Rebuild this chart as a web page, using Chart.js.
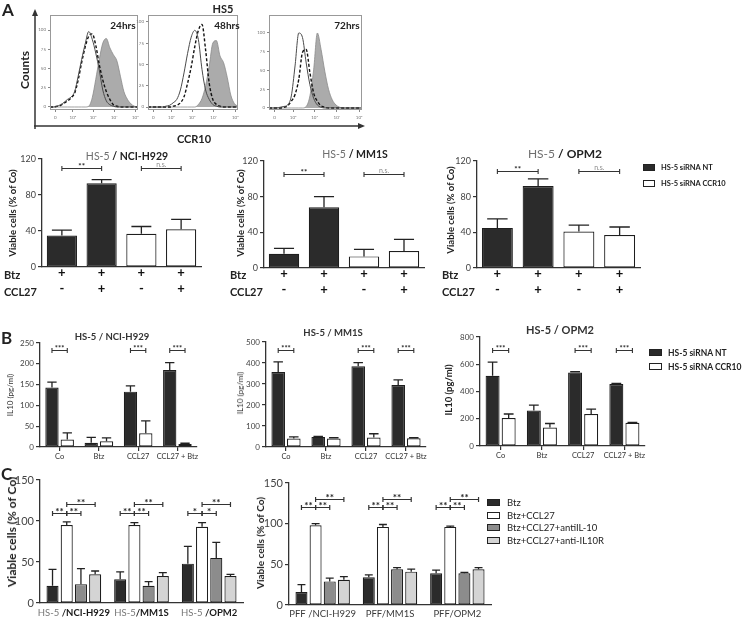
<!DOCTYPE html>
<html><head><meta charset="utf-8">
<script src="https://cdn.jsdelivr.net/npm/chart.js@4"></script>
<style>
html,body{margin:0;padding:0;background:#fff;}
#root{position:relative;width:744px;height:619px;overflow:hidden;font-family:Lato,"Open Sans",sans-serif;color:#222;}
canvas{position:absolute;}
.t{position:absolute;white-space:nowrap;line-height:1;}
.c{transform:translate(-50%,-50%);}
.l{transform:translateY(-50%);}
.r{transform:translate(-50%,-50%) rotate(-90deg);}
.sw{position:absolute;border:1.2px solid #222;box-sizing:border-box;}
</style></head><body><div id="root"></div>
<script>
// ================= DATA =================
// Panel A – flow cytometry histograms (% of max on a log CCR10 axis)
const flowBins = [0,4,8,12,16,20,24,28,32,36,40,44,48,52,56,60,64,68,72,76,80,84,88,92,96,100];
const flowTickPos = [6,26,49,73,97];
const flowTickLabels = ['0','10²','10³','10⁴','10⁵'];
const flowYTicks = [0,25,50,75,100];
const flowTimes = ['24hrs','48hrs','72hrs'];
const h24Solid  = [0,0,1,3,6,10,13,20,40,62,82,98,88,70,48,22,8,3,1,0,0,0,0,0,0,0];
const h24Dashed = [0,0,1,2,5,8,12,18,35,58,78,92,95,80,55,35,20,10,3,1,0,0,0,0,0,0];
const h24Filled = [0,0,0,0,0,0,0,0,0,0,0,1,12,36,62,83,89,77,68,60,40,20,10,4,1,0];
const h48Solid  = [0,0,0,0,0,1,2,5,9,20,40,63,82,90,79,44,20,9,3,1,0,0,0,0,0,0];
const h48Dashed = [0,0,0,0,0,0,0,1,2,5,12,28,47,71,90,97,67,28,9,3,1,0,0,0,0,0];
const h48Filled = [0,0,0,0,0,0,0,0,0,0,0,0,0,0,3,10,25,48,75,78,60,52,35,14,4,1];
const h72Solid  = [0,0,0,1,2,4,16,56,100,94,60,31,13,4,1,0,0,0,0,0,0,0,0,0,0,0];
const h72Dashed = [0,0,0,0,1,3,9,18,38,74,78,47,20,9,3,1,0,0,0,0,0,0,0,0,0,0];
const h72Filled = [0,0,0,0,0,0,0,0,0,0,2,16,51,100,78,49,25,11,4,1,0,0,0,0,0,0];

// Panel A – viable cells (% of Co)
const aRowBtz = ['+','+','+','+'];
const aRowCcl = ['-','+','-','+'];
const aLegend = ['HS-5 siRNA NT','HS-5 siRNA CCR10'];
const aYTicks = [0,40,80,120];
const aNciVals = [35,93,37,42];  const aNciErr = [6,4,8,11];
const aMmVals  = [16,68,13,19];  const aMmErr  = [6,12,8,13];
const aOpmVals = [45,92,41,37];  const aOpmErr = [10,8,7,9];
// brackets: [fromCat, fromDataset, toCat, toDataset, yValue, text]
const aNciSig = [[0,0,1,0,110,'**'],[2,0,3,0,110,'n.s.']];
const aMmSig  = [[0,0,1,0,105,'**'],[2,0,3,0,105,'n.s.']];
const aOpmSig = [[0,0,1,0,109,'**'],[2,0,3,0,109,'n.s.']];

// Panel B – IL10 (pg/ml)
const bCats = ['Co','Btz','CCL27','CCL27 + Btz'];
const bNciNT  = [143,10,133,185]; const bNciNTErr  = [13,13,14,18];
const bNciCCR = [18,14,33,7];     const bNciCCRErr = [16,8,30,2];
const bMmNT   = [357,48,385,295]; const bMmNTErr   = [48,2,17,25];
const bMmCCR  = [40,40,45,42];    const bMmCCRErr  = [8,4,18,2];
const bOpmNT  = [515,260,540,455];const bOpmNTErr  = [100,40,5,5];
const bOpmCCR = [205,135,235,170];const bOpmCCRErr = [30,30,35,3];
const bNciSig = [[0,0,0,1,233,'***'],[2,0,2,1,233,'***'],[3,0,3,1,233,'***']];
const bMmSig  = [[0,0,0,1,462,'***'],[2,0,2,1,462,'***'],[3,0,3,1,462,'***']];
const bOpmSig = [[0,0,0,1,705,'***'],[2,0,2,1,705,'***'],[3,0,3,1,705,'***']];

// Panel C – viable cells (% of Co)
const cLegend = ['Btz','Btz+CCL27','Btz+CCL27+antiIL-10','Btz+CCL27+anti-IL10R'];
const cHsCats  = ['HS-5 /NCI-H929','HS-5/MM1S','HS-5 /OPM2'];
const cPffCats = ['PFF /NCI-H929','PFF/MM1S','PFF/OPM2'];
const cHsBtz    = [21,29,48]; const cHsBtzErr    = [20,9,21];
const cHsCcl    = [95,95,93]; const cHsCclErr    = [4,3,5];
const cHsIl10   = [23,21,55]; const cHsIl10Err   = [19,5,19];
const cHsIl10R  = [35,33,33]; const cHsIl10RErr  = [4,4,2];
const cPffBtz   = [16,34,39]; const cPffBtzErr   = [9,3,4];
const cPffCcl   = [98,96,96]; const cPffCclErr   = [2,3,1];
const cPffIl10  = [29,44,39]; const cPffIl10Err  = [4,2,1];
const cPffIl10R = [31,41,44]; const cPffIl10RErr = [4,3,2];
const cHsSig = [[0,0,0,1,110,'**'],[0,1,0,2,110,'**'],[0,1,0,3,121,'**'],
                [1,0,1,1,110,'**'],[1,1,1,2,110,'**'],[1,1,1,3,121,'**'],
                [2,0,2,1,110,'*'],[2,1,2,2,110,'*'],[2,1,2,3,121,'**']];
const cPffSig = [[0,0,0,1,120,'**'],[0,1,0,2,120,'**'],[0,1,0,3,130,'**'],
                 [1,0,1,1,120,'**'],[1,1,1,2,120,'**'],[1,1,1,3,130,'**'],
                 [2,0,2,1,120,'**'],[2,1,2,2,120,'**'],[2,1,2,3,130,'**']];

// ================= STYLE =================
const DARK='#2b2b2b', EDGE='#1e1e1e', WHITE='#ffffff', MID='#8c8c8c', LIGHT='#d4d4d4';
const FAM='Lato, "Open Sans", sans-serif';
Chart.defaults.font.family = FAM;
const root = document.getElementById('root');

function addText(html, x, y, cls, style){
  const d=document.createElement('div'); d.className='t '+cls; d.innerHTML=html;
  d.style.left=x+'px'; d.style.top=y+'px'; Object.assign(d.style, style||{}); root.appendChild(d); return d;
}
function swatch(x,y,w,h,color){
  const d=document.createElement('div'); d.className='sw';
  Object.assign(d.style,{left:x+'px',top:y+'px',width:w+'px',height:h+'px',background:color}); root.appendChild(d);
}
function mkCanvas(area,yW,xH,padT,padR){
  const cv=document.createElement('canvas');
  const w=(area.r-area.l)+yW+padR, h=(area.b-area.t)+padT+xH;
  cv.width=w; cv.height=h; cv.style.width=w+'px'; cv.style.height=h+'px';
  cv.style.left=(area.l-yW)+'px'; cv.style.top=(area.t-padT)+'px';
  root.appendChild(cv); return cv;
}

// ================= PLUGINS =================
const errPlugin={id:'errbars',afterDatasetsDraw(chart,args,o){
  const ctx=chart.ctx, ys=chart.scales.y;
  chart.data.datasets.forEach((ds,di)=>{
    if(!ds.errors) return;
    chart.getDatasetMeta(di).data.forEach((bar,i)=>{
      const e=ds.errors[i]; if(!e) return;
      const yb=ys.getPixelForValue(ds.data[i]), yt=ys.getPixelForValue(ds.data[i]+e);
      const half=bar.width*(o.capFrac||0.33);
      ctx.save(); ctx.strokeStyle='#222'; ctx.lineWidth=o.lw||1.3;
      ctx.beginPath(); ctx.moveTo(bar.x,yb); ctx.lineTo(bar.x,yt);
      ctx.moveTo(bar.x-half,yt); ctx.lineTo(bar.x+half,yt); ctx.stroke(); ctx.restore();
    });
  });
}};
const sigPlugin={id:'sig',afterDatasetsDraw(chart,args,o){
  if(!o.items) return;
  const ctx=chart.ctx, ys=chart.scales.y;
  o.items.forEach(([c1,d1,c2,d2,v,t])=>{
    const x1=chart.getDatasetMeta(d1).data[c1].x, x2=chart.getDatasetMeta(d2).data[c2].x;
    const y=Math.round(ys.getPixelForValue(v))+0.5;
    ctx.save(); ctx.strokeStyle='#333'; ctx.lineWidth=o.lw||1.1;
    ctx.beginPath(); ctx.moveTo(x1,y); ctx.lineTo(x2,y);
    ctx.moveTo(x1,y-o.tick); ctx.lineTo(x1,y+o.tick); ctx.moveTo(x2,y-o.tick); ctx.lineTo(x2,y+o.tick); ctx.stroke();
    const ns=(t==='n.s.');
    ctx.fillStyle=ns?'#8a8a8a':'#222';
    ctx.font=(ns?'400 ':'700 ')+(ns?o.nsSize:o.size)+'px '+FAM;
    ctx.textAlign='center'; ctx.textBaseline='alphabetic';
    ctx.fillText(t,(x1+x2)/2, ns? y-1.5 : y+o.size*0.12);
    ctx.restore();
  });
}};
// category labels drawn at scale positions; optional split at '/' into grey prefix + bold suffix
const catLabelPlugin={id:'catLabels',afterDraw(chart,args,o){
  if(!o.enabled) return;
  const ctx=chart.ctx, xs=chart.scales.x;
  chart.data.labels.forEach((lab,i)=>{
    const k=o.split?lab.indexOf('/'):lab.length; const p1=lab.slice(0,k), p2=lab.slice(k);
    ctx.save();
    const f1=o.w1+' '+o.size+'px '+FAM, f2=o.w2+' '+o.size+'px '+FAM;
    ctx.font=f1; const w1=ctx.measureText(p1).width;
    ctx.font=f2; const w2=ctx.measureText(p2).width;
    const x0=xs.getPixelForValue(i)-(w1+w2)/2, y=chart.chartArea.bottom+o.dy;
    ctx.textBaseline='middle'; ctx.textAlign='left';
    ctx.font=f1; ctx.fillStyle=o.c1; ctx.fillText(p1,x0,y);
    ctx.font=f2; ctx.fillStyle=o.c2; ctx.fillText(p2,x0+w1,y);
    ctx.restore();
  });
}};
const boxPlugin={id:'box',afterDraw(chart){
  const a=chart.chartArea, ctx=chart.ctx; ctx.save(); ctx.strokeStyle='#999'; ctx.lineWidth=1;
  ctx.strokeRect(a.left+0.5,a.top+0.5,a.right-a.left-1,a.bottom-a.top-1); ctx.restore();
}};

// ================= BUILDERS =================
function barChart(o){
  const padT=o.padT||12, padR=o.padR||6;
  const cv=mkCanvas(o.area,o.yW,o.xH,padT,padR);
  const xH=o.xH, yW=o.yW;
  const xs=Object.assign({type:'category',offset:true,
      border:{display:true,color:'#333',width:1.3},
      afterFit(s){s.height=xH; s.paddingLeft=0; s.paddingRight=0;}}, o.x);
  return new Chart(cv,{type:'bar',
    data:{labels:o.labels,datasets:o.datasets},
    options:{responsive:false,animation:false,devicePixelRatio:1,
      layout:{padding:{top:padT,right:padR,left:0,bottom:0}},
      datasets:{bar:{categoryPercentage:o.catPct,barPercentage:o.barPct,borderWidth:1.2,borderColor:EDGE,borderSkipped:false}},
      plugins:{legend:{display:false},tooltip:{enabled:false},
        errbars:{capFrac:o.capFrac,lw:o.errLw},
        sig:Object.assign({items:o.sig},o.sigStyle),
        catLabels:o.catLabels||{enabled:false}},
      scales:{x:xs,
        y:{min:o.yMin,max:o.yMax,
          afterBuildTicks(s){s.ticks=o.yTicks.map(v=>({value:v}));},
          ticks:{font:{size:o.yFont},color:'#444',padding:2},
          grid:{drawOnChartArea:false,drawTicks:true,tickLength:4,color:'#333',lineWidth:1.2},
          border:{display:true,color:'#333',width:1.3},
          afterFit(s){s.width=yW; s.paddingTop=0; s.paddingBottom=0;}}}
    },
    plugins:[errPlugin,sigPlugin,catLabelPlugin]});
}
function flowChart(area,solid,dashed,filled,yMin,yMax){
  const cv=mkCanvas(area,12,14,2,2);
  const pts=arr=>flowBins.map((x,i)=>({x,y:arr[i]}));
  return new Chart(cv,{type:'line',
    data:{datasets:[
      {data:pts(solid),borderColor:'#4a4a4a',borderWidth:1,order:1},
      {data:pts(dashed),borderColor:'#111',borderWidth:1.4,borderDash:[3,2],order:2},
      {data:pts(filled),fill:'origin',backgroundColor:'#ababab',borderColor:'#8a8a8a',borderWidth:0.8,order:3}]},
    options:{responsive:false,animation:false,devicePixelRatio:1,
      layout:{padding:{top:2,right:2,left:0,bottom:0}},
      elements:{point:{radius:0},line:{cubicInterpolationMode:'monotone',fill:false}},
      plugins:{legend:{display:false},tooltip:{enabled:false}},
      scales:{
        x:{type:'linear',min:0,max:100,
          afterBuildTicks(s){s.ticks=flowTickPos.map(v=>({value:v}));},
          ticks:{font:{size:4.5},color:'#777',padding:3,maxRotation:0,autoSkip:false,callback:(v,i)=>flowTickLabels[i]},
          grid:{drawOnChartArea:false,tickLength:2,color:'#888'},border:{display:false},
          afterFit(s){s.height=14;s.paddingLeft=0;s.paddingRight=0;}},
        y:{min:yMin,max:yMax,
          afterBuildTicks(s){s.ticks=flowYTicks.map(v=>({value:v}));},
          ticks:{font:{size:4.5},color:'#777',padding:2},
          grid:{drawOnChartArea:false,tickLength:2,color:'#888'},border:{display:false},
          afterFit(s){s.width=12;s.paddingTop=0;s.paddingBottom=0;}}}
    },
    plugins:[boxPlugin]});
}

// ================= PANEL A =================
flowChart({l:50,t:15,r:138,b:110},h24Solid,h24Dashed,h24Filled,-3.9,119.5);
flowChart({l:148,t:15,r:238,b:110},h48Solid,h48Dashed,h48Filled,-3.5,108);
flowChart({l:269,t:15,r:362,b:110},h72Solid,h72Dashed,h72Filled,-2.7,124);

const svgNS='http://www.w3.org/2000/svg';
const svg=document.createElementNS(svgNS,'svg');
svg.setAttribute('width','744');svg.setAttribute('height','619');
svg.style.position='absolute';svg.style.left='0';svg.style.top='0';
svg.innerHTML='<line x1="35" y1="129" x2="35" y2="15" stroke="#333" stroke-width="1.5"/>'+
 '<polygon points="35,9 32,16 38,16" fill="#333"/>'+
 '<line x1="34" y1="126" x2="358" y2="126" stroke="#333" stroke-width="1.5"/>'+
 '<polygon points="365,126 358,123 358,129" fill="#333"/>';
root.appendChild(svg);

addText('A',2,9,'l',{fontSize:'17px',fontWeight:'700'});
addText('HS5',223,8,'c',{fontSize:'11px',fontWeight:'700'});
[[123,25],[227,25],[347,25]].forEach((p,i)=>addText(flowTimes[i],p[0],p[1],'c',{fontSize:'10px',fontWeight:'700'}));
addText('Counts',25,70,'r',{fontSize:'12px',fontWeight:'700'});
addText('CCR10',194,138,'c',{fontSize:'11px',fontWeight:'700'});

const aLabels=aRowBtz.map((b,i)=>[b,aRowCcl[i]]);
function aChart(area,vals,errs,sig){
  return barChart({area,yW:26,xH:40,labels:aLabels,
    datasets:[{data:vals,errors:errs,backgroundColor:[DARK,DARK,WHITE,WHITE]}],
    catPct:1,barPct:0.76,capFrac:0.33,yMin:0,yMax:120,yTicks:aYTicks,yFont:9,
    sig,sigStyle:{size:8,nsSize:7,tick:2.5},
    x:{grid:{display:false,drawTicks:false,tickLength:0},ticks:{font:{size:13,weight:'bold',lineHeight:'16px'},color:'#111',padding:-2,maxRotation:0,autoSkip:false}}});
}
aChart({l:42,t:159,r:201,b:267},aNciVals,aNciErr,aNciSig);
aChart({l:264,t:161,r:424,b:268},aMmVals,aMmErr,aMmSig);
aChart({l:477,t:161,r:640,b:268},aOpmVals,aOpmErr,aOpmSig);

const titleA=(s)=>'<span style="color:#6f6f6f;font-weight:400">HS-5 </span><b>/ '+s+'</b>';
addText(titleA('NCI-H929'),127,156,'c',{fontSize:'10.5px'});
addText(titleA('MM1S'),355,154,'c',{fontSize:'10.5px'});
addText(titleA('OPM2'),565,154,'c',{fontSize:'12px'});
[[13,213],[241,213],[451,210]].forEach(p=>addText('Viable cells (% of Co)',p[0],p[1],'r',{fontSize:'9.5px',fontWeight:'700'}));
[4,230,442].forEach(x=>{
  addText('Btz',x,274,'l',{fontSize:'11px',fontWeight:'700'});
  addText('CCL27',x,291,'l',{fontSize:'11px',fontWeight:'700'});
});
swatch(643,164,12,7,DARK); swatch(643,180,12,7,WHITE);
addText(aLegend[0],661,167.5,'l',{fontSize:'7.5px',fontWeight:'700'});
addText(aLegend[1],661,183.5,'l',{fontSize:'7.5px',fontWeight:'700'});

// ================= PANEL B =================
function bChart(area,nt,ntE,ccr,ccrE,yMax,ticks,sig){
  return barChart({area,yW:24,xH:14,labels:bCats,
    datasets:[{data:nt,errors:ntE,backgroundColor:DARK},{data:ccr,errors:ccrE,backgroundColor:WHITE}],
    catPct:0.78,barPct:0.87,capFrac:0.35,yMin:0,yMax,yTicks:ticks,yFont:8,
    sig,sigStyle:{size:7.5,nsSize:7,tick:2.5},
    x:{grid:{offset:false,drawOnChartArea:false,drawTicks:true,tickLength:4,color:'#333',lineWidth:1.2},
       ticks:{font:{size:7.5},color:'#333',padding:1,maxRotation:0,autoSkip:false}}});
}
bChart({l:40,t:343,r:197,b:447},bNciNT,bNciNTErr,bNciCCR,bNciCCRErr,250,[0,50,100,150,200,250],bNciSig);
bChart({l:266,t:342,r:426,b:447},bMmNT,bMmNTErr,bMmCCR,bMmCCRErr,500,[0,100,200,300,400,500],bMmSig);
bChart({l:480,t:337,r:645,b:446},bOpmNT,bOpmNTErr,bOpmCCR,bOpmCCRErr,800,[0,200,400,600,800],bOpmSig);

addText('B',1,337,'l',{fontSize:'17px',fontWeight:'700'});
addText('HS-5 / NCI-H929',112,337,'c',{fontSize:'9.5px',fontWeight:'700',color:'#333'});
addText('HS-5 / MM1S',333,333,'c',{fontSize:'9.5px',fontWeight:'700',color:'#333'});
addText('HS-5 / OPM2',560,329,'c',{fontSize:'11px',fontWeight:'700',color:'#333'});
addText('IL10 (pg/ml)',10,395,'r',{fontSize:'8px',color:'#333'});
addText('IL10 (pg/ml)',240,393,'r',{fontSize:'8px',color:'#333'});
addText('IL10 (pg/ml)',449,390,'r',{fontSize:'9.5px',fontWeight:'700'});
swatch(649,349,13,7,DARK); swatch(649,363,13,7,WHITE);
addText(aLegend[0],668,352.5,'l',{fontSize:'8.5px',fontWeight:'700'});
addText(aLegend[1],668,366.5,'l',{fontSize:'8.5px',fontWeight:'700'});

// ================= PANEL C =================
function cChart(area,cats,sets,sig,catLabels){
  const cols=[DARK,WHITE,MID,LIGHT];
  return barChart({area,yW:26,xH:18,labels:cats,
    datasets:sets.map((s,i)=>({data:s[0],errors:s[1],backgroundColor:cols[i]})),
    catPct:0.84,barPct:0.85,capFrac:0.33,yMin:0,yMax:150,yTicks:[0,50,100,150],yFont:11,
    sig,sigStyle:{size:10,nsSize:9,tick:2.5,lw:1.2},catLabels,
    x:{grid:{display:false,drawTicks:false,tickLength:0},ticks:{display:false}}});
}
cChart({l:40,t:480,r:243,b:603},cHsCats,
  [[cHsBtz,cHsBtzErr],[cHsCcl,cHsCclErr],[cHsIl10,cHsIl10Err],[cHsIl10R,cHsIl10RErr]],
  cHsSig,{enabled:true,split:true,size:9.5,dy:10,w1:'400',w2:'700',c1:'#777',c2:'#1a1a1a'});
cChart({l:289,t:483,r:491,b:605},cPffCats,
  [[cPffBtz,cPffBtzErr],[cPffCcl,cPffCclErr],[cPffIl10,cPffIl10Err],[cPffIl10R,cPffIl10RErr]],
  cPffSig,{enabled:true,split:false,size:9.5,dy:9,w1:'400',w2:'400',c1:'#3a3a3a',c2:'#3a3a3a'});

addText('C',1,473,'l',{fontSize:'17px',fontWeight:'700'});
addText('Viable cells (% of Co)',12,532,'r',{fontSize:'12px',fontWeight:'700'});
addText('Viable cells (% of Co)',260,543,'r',{fontSize:'10px',fontWeight:'700'});
const cCols=[DARK,WHITE,MID,LIGHT];
[499,512,524,537].forEach((y,i)=>{
  swatch(487,y,13,7,cCols[i]);
  addText(cLegend[i],507,y+3.5,'l',{fontSize:'9.5px'});
});
</script></body></html>
